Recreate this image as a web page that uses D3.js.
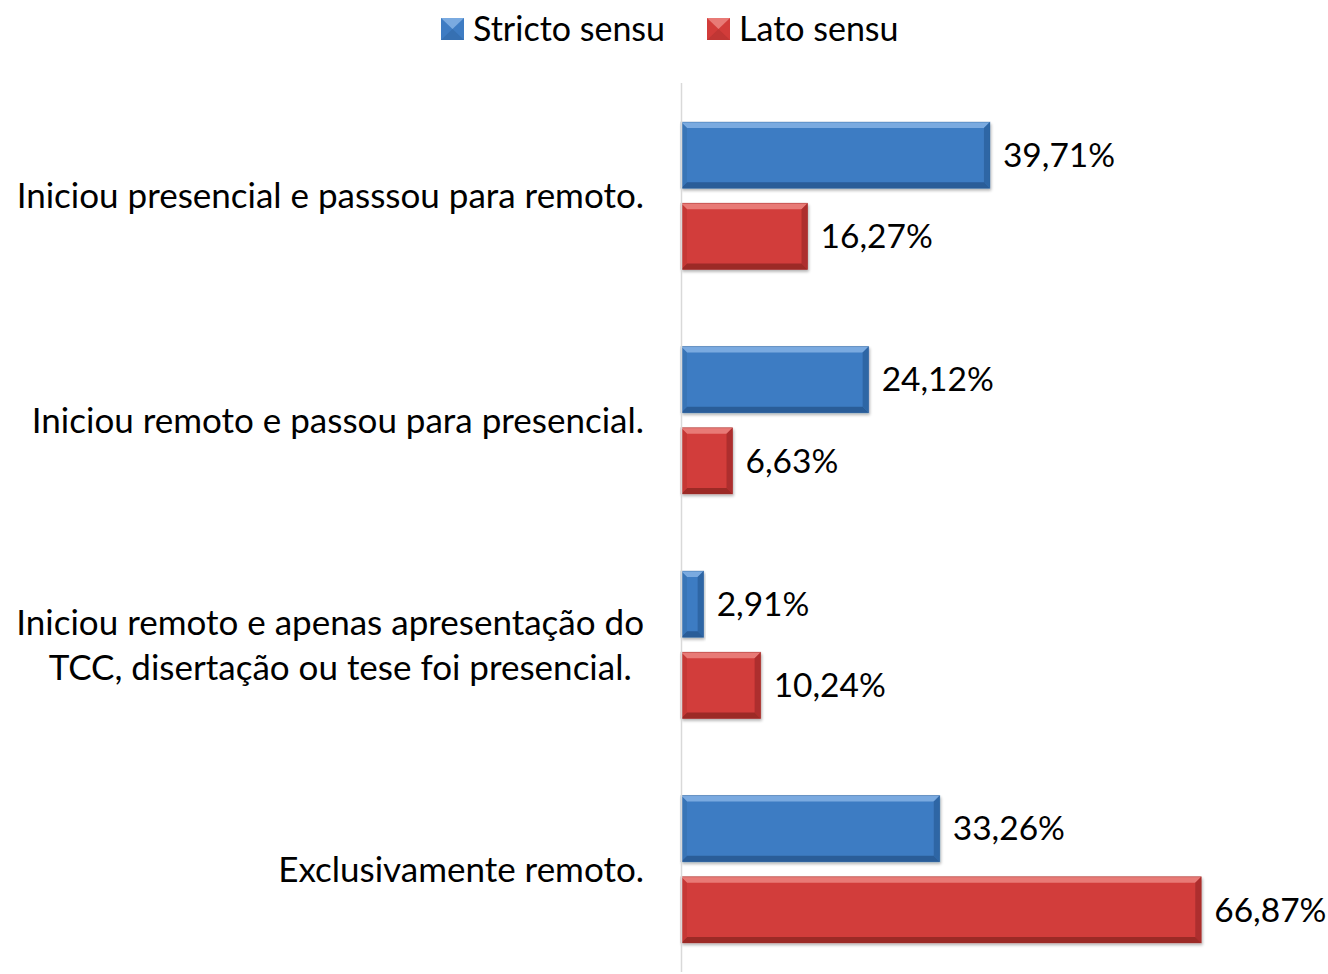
<!DOCTYPE html>
<html>
<head>
<meta charset="utf-8">
<script src="https://cdn.jsdelivr.net/npm/d3@7"></script>
<style>
  body { margin: 0; background: #fff; }
  text { font-family: Lato, "Noto Sans", sans-serif; fill: #000; }
</style>
</head>
<body>
<div id="chart"></div>
<script>
// data
var categories = [
  ["Iniciou presencial e passsou para remoto."],
  ["Iniciou remoto e passou para presencial."],
  ["Iniciou remoto e apenas apresentação do", "TCC, disertação ou tese foi presencial."],
  ["Exclusivamente remoto."]
];
var seriesNames = ["Stricto sensu", "Lato sensu"];
var stricto = [39.71, 24.12, 2.91, 33.26];
var lato = [16.27, 6.63, 10.24, 66.87];
var valueLabels = [["39,71%", "16,27%"], ["24,12%", "6,63%"], ["2,91%", "10,24%"], ["33,26%", "66,87%"]];

var W = 1328, H = 974;
var x0 = 681;

var svg = d3.select("#chart").append("svg")
  .attr("width", W).attr("height", H);

var colors = {
  "Stricto sensu": { main: "#3e7cc3", light: "#7aaae0", dark: "#2a5d98", side: "#3670b2" },
  "Lato sensu":    { main: "#d23c3a", light: "#e87a76", dark: "#9c2a28", side: "#c03634" }
};

// scales
var x = d3.scaleLinear().domain([0, 70]).range([x0, x0 + 70 * 7.78]);
var y = d3.scaleBand().domain(d3.range(categories.length)).range([83.5, 981.5]).paddingInner(0.344).paddingOuter(0.172);
var ys = d3.scaleBand().domain(seriesNames).range([0, y.bandwidth()]).paddingInner(0.185);

var defs = svg.append("defs");
var f = defs.append("filter").attr("id", "shadow").attr("x", "-5%").attr("y", "-10%").attr("width", "115%").attr("height", "130%");
f.append("feGaussianBlur").attr("in", "SourceAlpha").attr("stdDeviation", 1.5);
f.append("feOffset").attr("dx", 1).attr("dy", 2).attr("result", "ob");
f.append("feComponentTransfer").append("feFuncA").attr("type", "linear").attr("slope", 0.3);
var fm = f.append("feMerge");
fm.append("feMergeNode");
fm.append("feMergeNode").attr("in", "SourceGraphic");

// rows
var rows = [];
categories.forEach(function(c, i) {
  rows.push({ i: i, s: "Stricto sensu", v: stricto[i], label: valueLabels[i][0] });
  rows.push({ i: i, s: "Lato sensu", v: lato[i], label: valueLabels[i][1] });
});

function bevelBar(g, d) {
  var x1 = x(0), x2 = x(d.v);
  var y1 = y(d.i) + ys(d.s), y2 = y1 + ys.bandwidth();
  var b = Math.min(6, (x2 - x1) / 2);
  var c = colors[d.s];
  var bg = g.append("g").attr("filter", "url(#shadow)");
  bg.append("rect").attr("x", x1).attr("y", y1).attr("width", x2 - x1).attr("height", y2 - y1).attr("fill", c.main);
  var poly = function(pts, fill, op) {
    bg.append("polygon").attr("points", pts.map(function(p) { return p.join(","); }).join(" "))
      .attr("fill", fill).attr("opacity", op);
  };
  poly([[x1, y1], [x2, y1], [x2 - b, y1 + b], [x1 + b, y1 + b]], c.light, 1);
  poly([[x1, y2], [x2, y2], [x2 - b, y2 - b], [x1 + b, y2 - b]], c.dark, 1);
  poly([[x1, y1], [x1 + b, y1 + b], [x1 + b, y2 - b], [x1, y2]], c.side, 0.7);
  poly([[x2, y1], [x2 - b, y1 + b], [x2 - b, y2 - b], [x2, y2]], c.dark, 0.7);
  bg.append("rect").attr("x", x1).attr("y", y1).attr("width", x2 - x1).attr("height", y2 - y1)
    .attr("fill", "none").attr("stroke", c.dark).attr("stroke-width", 0.8).attr("opacity", 0.5);
}

var barG = svg.append("g");
rows.forEach(function(d) { bevelBar(barG, d); });

// value labels
svg.append("g").selectAll("text").data(rows).join("text")
  .attr("x", function(d) { return x(d.v) + 13; })
  .attr("y", function(d) { return y(d.i) + ys(d.s) + ys.bandwidth() / 2; })
  .attr("dy", "0.35em")
  .attr("font-size", 33.5)
  .text(function(d) { return d.label; });

// axis line
svg.append("line").attr("x1", x0 + 0.5).attr("x2", x0 + 0.5).attr("y1", 83).attr("y2", 972)
  .attr("stroke", "#d9d9d9").attr("stroke-width", 1.5);

// category labels
var catG = svg.append("g");
categories.forEach(function(lines, i) {
  var cy = y(i) + y.bandwidth() / 2;
  var lh = 45;
  var w0 = 0;
  lines.forEach(function(l, k) {
    var t = catG.append("text")
      .attr("y", cy + (k - (lines.length - 1) / 2) * lh)
      .attr("dy", "0.35em")
      .attr("font-size", 35)
      .text(l);
    if (k === 0) {
      t.attr("x", 644).attr("text-anchor", "end");
      w0 = t.node().getComputedTextLength();
    } else {
      t.attr("x", 644 - w0 / 2 + 10).attr("text-anchor", "middle");
    }
  });
});

// legend
var leg = svg.append("g");
var legX = [441, 707];
seriesNames.forEach(function(s, k) {
  var c = colors[s];
  var g = leg.append("g").attr("transform", "translate(" + legX[k] + ",18)");
  g.append("rect").attr("width", 23).attr("height", 22).attr("fill", c.main);
  g.append("polygon").attr("points", "0,0 23,0 11.5,11").attr("fill", c.light);
  g.append("polygon").attr("points", "0,22 23,22 11.5,11").attr("fill", c.side);
  g.append("text").attr("x", 32).attr("y", 11).attr("dy", "0.35em").attr("font-size", 34).text(s);
});
</script>
</body>
</html>
